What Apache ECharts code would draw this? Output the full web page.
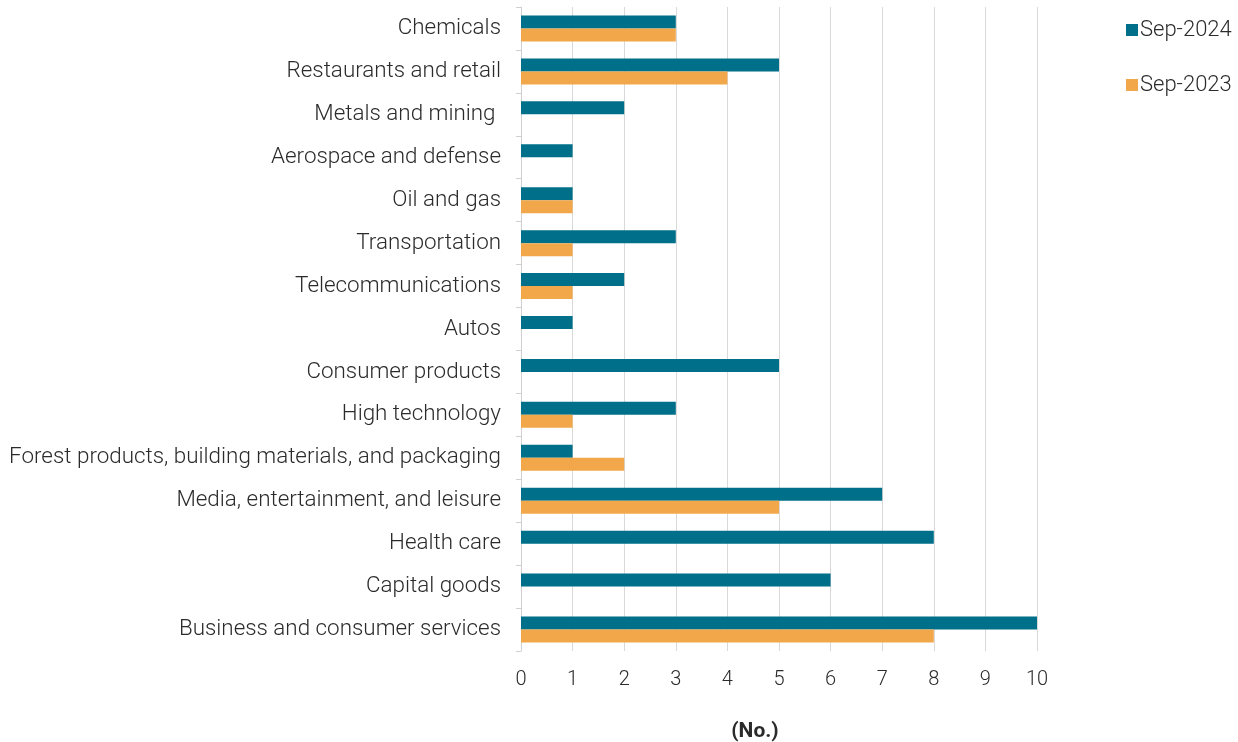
<!DOCTYPE html>
<html>
<head>
<meta charset="utf-8">
<script src="https://cdn.jsdelivr.net/npm/echarts@6/dist/echarts.min.js"></script>
<style>
  html, body { margin: 0; padding: 0; background: #fff; }
  #chart { width: 1238px; height: 742px; }
</style>
</head>
<body>
<div id="chart"></div>
<script>
// sectors, listed top to bottom as in the picture
const sectors = [
  'Chemicals',
  'Restaurants and retail',
  'Metals and mining ',
  'Aerospace and defense',
  'Oil and gas',
  'Transportation',
  'Telecommunications',
  'Autos',
  'Consumer products',
  'High technology',
  'Forest products, building materials, and packaging',
  'Media, entertainment, and leisure',
  'Health care',
  'Capital goods',
  'Business and consumer services'
]
const sep2024 = [3, 5, 2, 1, 1, 3, 2, 1, 5, 3, 1, 7, 8, 6, 10]
const sep2023 = [3, 4, 0, 0, 1, 1, 1, 0, 0, 1, 2, 5, 0, 0, 8]
const xTicks = [0, 10, 1] // min, max, interval

const font = 'Roboto, "Noto Sans", sans-serif'
const textColor = '#2b2b2b'

let myChart = echarts.init(document.getElementById('chart'))
myChart.setOption({
  animation: false,
  textStyle: { fontFamily: font },
  grid: {
    left: 521,
    right: 201,
    top: 7,
    bottom: 91,
    containLabel: false,
    outerBoundsMode: 'none'
  },
  legend: {
    orient: 'vertical',
    left: 1121,
    top: 14,
    itemWidth: 12,
    itemHeight: 12,
    itemGap: 33,
    icon: 'rect',
    textStyle: { fontSize: 22, fontWeight: 300, color: textColor, fontFamily: font, padding: [0, 0, 0, -3] },
    data: ['Sep-2024', 'Sep-2023']
  },
  xAxis: {
    type: 'value',
    min: xTicks[0],
    max: xTicks[1],
    interval: xTicks[2],
    name: '(No.)',
    nameLocation: 'middle',
    nameGap: 70,
    nameTextStyle: { fontSize: 21, fontWeight: 'bold', color: textColor, fontFamily: font, padding: [0, 48, 0, 0] },
    axisLine: { show: false },
    axisTick: { show: false },
    axisLabel: { fontSize: 20, fontWeight: 300, color: textColor, margin: 19, fontFamily: font },
    splitLine: { show: true, lineStyle: { color: '#d9d9d9', width: 1 } }
  },
  yAxis: {
    type: 'category',
    inverse: true,
    data: sectors,
    axisLine: { show: true, lineStyle: { color: '#d0d0d0', width: 1 } },
    axisTick: { show: true, length: 5, lineStyle: { color: '#d0d0d0' } },
    axisLabel: { fontSize: 22.4, fontWeight: 300, color: textColor, margin: 20, fontFamily: font, padding: [6, 0, 0, 0] },
    splitLine: { show: false }
  },
  series: [
    {
      name: 'Sep-2024',
      type: 'bar',
      data: sep2024,
      barWidth: 13,
      barGap: '0%',
      itemStyle: { color: '#006f89' }
    },
    {
      name: 'Sep-2023',
      type: 'bar',
      data: sep2023,
      barWidth: 13,
      barGap: '0%',
      itemStyle: { color: '#f2a84a' }
    }
  ]
})
</script>
</body>
</html>
